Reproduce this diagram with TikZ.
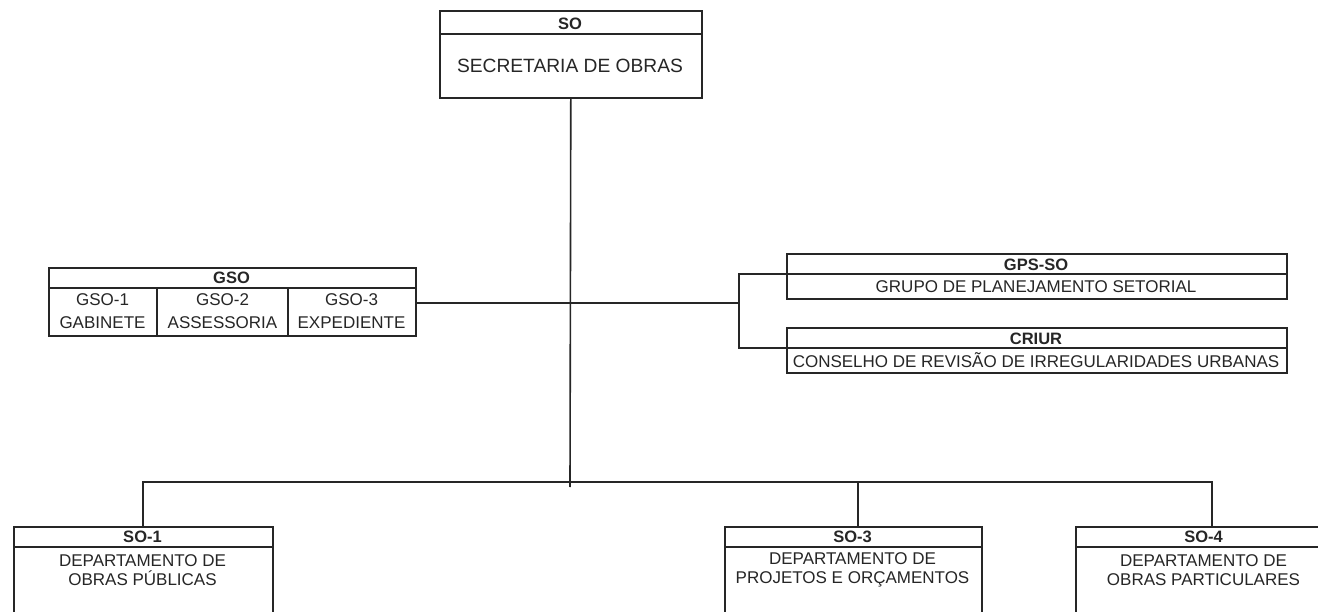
\documentclass[tikz,border=0pt]{standalone}
\usepackage{fontspec}
\setmainfont{Liberation Sans}
\definecolor{ink}{HTML}{262626}
\begin{document}
\begin{tikzpicture}[x=1pt,y=-1pt,
  every node/.style={text=ink, font=\fontsize{17}{19}\selectfont},
  box/.style={draw=ink, line width=1.6pt, rectangle, inner sep=0pt, anchor=north west},
  ttl/.style={font=\bfseries\fontsize{16.5}{18}\selectfont, inner sep=0pt},
  txt/.style={align=center, inner sep=0pt},
  link/.style={draw=ink, line width=1.6pt}]
\useasboundingbox (0,0) rectangle (1318,612);
\clip (0,0) rectangle (1318,612);
\fill[white] (0,0) rectangle (1318,612);

% --- SO
\node[box, minimum width=262pt, minimum height=87pt] (so) at (439,10) {};
\coordinate (soDiv) at (439,34);
\draw[link] (so.west |- soDiv) -- (so.east |- soDiv);
\node[ttl] (soT) at (570,23.5) {SO};
\node[txt, font=\fontsize{19.2}{22}\selectfont] (soB) at (570,66) {SECRETARIA DE OBRAS};

% --- GSO
\node[box, minimum width=367pt, minimum height=68pt] (gso) at (48,267) {};
\coordinate (gsoDiv) at (48,288);
\coordinate (gsoC1) at (157,288);
\coordinate (gsoC2) at (288,288);
\draw[link] (gso.west |- gsoDiv) -- (gso.east |- gsoDiv);
\draw[link] (gsoC1) -- (gsoC1 |- gso.south);
\draw[link] (gsoC2) -- (gsoC2 |- gso.south);
\node[ttl] (gsoT) at (231.5,278) {GSO};
\node[txt, font=\fontsize{17}{22.5}\selectfont] (gso1) at (102.5,311) {GSO-1\\GABINETE};
\node[txt, font=\fontsize{17}{22.5}\selectfont] (gso2) at (222.5,311) {GSO-2\\ASSESSORIA};
\node[txt, font=\fontsize{17}{22.5}\selectfont] (gso3) at (351.5,311) {GSO-3\\EXPEDIENTE};

% --- GPS-SO
\node[box, minimum width=500pt, minimum height=45pt] (gps) at (786,253) {};
\coordinate (gpsDiv) at (786,274);
\draw[link] (gps.west |- gpsDiv) -- (gps.east |- gpsDiv);
\node[ttl] (gpsT) at (1036,264.5) {GPS-SO};
\node[txt] (gpsB) at (1036,287) {GRUPO DE PLANEJAMENTO SETORIAL};

% --- CRIUR
\node[box, minimum width=500pt, minimum height=45pt] (criur) at (786,327) {};
\coordinate (criurDiv) at (786,348);
\draw[link] (criur.west |- criurDiv) -- (criur.east |- criurDiv);
\node[ttl] (criurT) at (1036,338.5) {CRIUR};
\node[txt] (criurB) at (1036,360.5) {CONSELHO DE REVISÃO DE IRREGULARIDADES URBANAS};

% --- bottom boxes
\node[box, minimum width=259pt, minimum height=200pt] (so1) at (13,526) {};
\node[box, minimum width=257pt, minimum height=200pt] (so3) at (724,526) {};
\node[box, minimum width=257pt, minimum height=200pt] (so4) at (1075,526) {};
\coordinate (botDiv) at (0,547);
\draw[link] (so1.west |- botDiv) -- (so1.east |- botDiv);
\draw[link] (so3.west |- botDiv) -- (so3.east |- botDiv);
\draw[link] (so4.west |- botDiv) -- (so4.east |- botDiv);
\node[ttl] (so1T) at (142.5,537) {SO-1};
\node[ttl] (so3T) at (852.5,537) {SO-3};
\node[ttl] (so4T) at (1203.5,537) {SO-4};
\node[txt] (so1B) at (142.5,570) {DEPARTAMENTO DE\\OBRAS PÚBLICAS};
\node[txt] (so3B) at (852.5,570) {DEPARTAMENTO DE\\PROJETOS E ORÇAMENTOS};
\node[txt] (so4B) at (1203.5,570) {DEPARTAMENTO DE\\OBRAS PARTICULARES};

% --- connectors
\coordinate (hub) at (570,487);
\coordinate (brk) at (739,303);
\coordinate (brkT) at (739,274);
\coordinate (brkB) at (739,348);
\coordinate (bL) at (143,482);
\coordinate (b3) at (858,482);
\coordinate (bR) at (1212,482);
\draw[link] (so.south) -- (hub);
\draw[link] (gso.east |- brk) -- (brk);
\draw[link] (gps.west |- brkT) -- (brkT) -- (brkB) -- (criur.west |- brkB);
\draw[link] (so1.north -| bL) -- (bL) -- (bR) -- (so4.north -| bR);
\draw[link] (b3) -- (b3 |- so3.north);
\end{tikzpicture}
\end{document}
